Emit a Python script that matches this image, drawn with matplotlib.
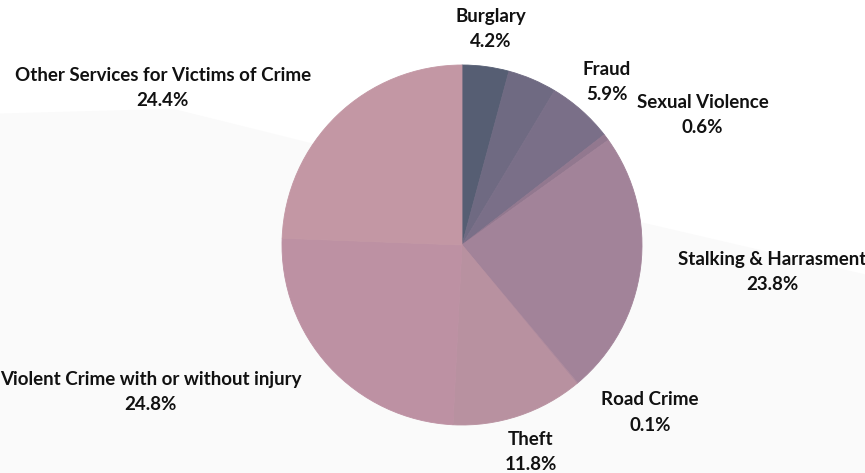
import matplotlib.pyplot as plt
from matplotlib.patches import Polygon
import numpy as np

# slice data, clockwise from 12 o'clock
categories = ['Burglary', '', 'Fraud', 'Sexual Violence', 'Stalking & Harrasment',
              'Road Crime', 'Theft', 'Violent Crime with or without injury',
              'Other Services for Victims of Crime']
shares = [4.2, 4.4, 5.9, 0.6, 23.8, 0.1, 11.8, 24.8, 24.4]
colours = ['#565e73', '#6f6a82', '#7a6f88', '#92788f', '#a28399',
           '#ae8a9d', '#b891a0', '#bd91a3', '#c397a4']

fig = plt.figure(figsize=(8.65, 4.73), dpi=100)
fig.patch.set_facecolor('white')

ax = fig.add_axes([0.0, 0.0, 1.0, 1.0])
ax.set_facecolor('none')

# faint grey backdrop band
bg = Polygon([(0, 0.76), (0.2, 0.77), (0.53, 0.62), (1.0, 0.42), (1.0, 0), (0, 0)],
             closed=True, transform=ax.transAxes, facecolor='#fafafa',
             edgecolor='none', zorder=-5)
ax.add_patch(bg)

wedges, _ = ax.pie(shares, colors=colours, startangle=90, counterclock=False,
                   radius=1.0, center=(0, 0), wedgeprops=dict(linewidth=0.6))
for w in wedges:
    w.set_edgecolor(w.get_facecolor())
    w.set_zorder(2)

# axis limits so the pie sits where the reference draws it
r_px = 180.0
cx, cy = 462.0, 473 - 245.0
ax.set_xlim(-cx / r_px, (865 - cx) / r_px)
ax.set_ylim(-cy / r_px, (473 - cy) / r_px)
ax.set_aspect('equal')
ax.axis('off')

total = sum(shares)
texts = []
for w, name, val in zip(wedges, categories, shares):
    if not name:
        continue
    ang = np.deg2rad((w.theta1 + w.theta2) / 2)
    dx, dy = np.cos(ang), np.sin(ang)
    t = ax.text(1.21 * dx, 1.21 * dy, f'{name}\n{val / total * 100:.1f}%',
                ha='center', va='center', multialignment='center', fontsize=13.5,
                fontweight='bold', family='Lato', color='#111111',
                linespacing=1.6, zorder=3)
    texts.append((t, dx))

# push labels sideways when a centred box would cut into the pie
fig.canvas.draw()
renderer = fig.canvas.get_renderer()
inv = ax.transData.inverted()
for t, dx in texts:
    bb = t.get_window_extent(renderer).transformed(inv)
    nx = np.clip(0, bb.x0, bb.x1)
    ny = np.clip(0, bb.y0, bb.y1)
    if np.hypot(nx, ny) < 1.0:
        t.set_ha('left' if dx > 0 else 'right')

fig.savefig('out.png', dpi=100)
